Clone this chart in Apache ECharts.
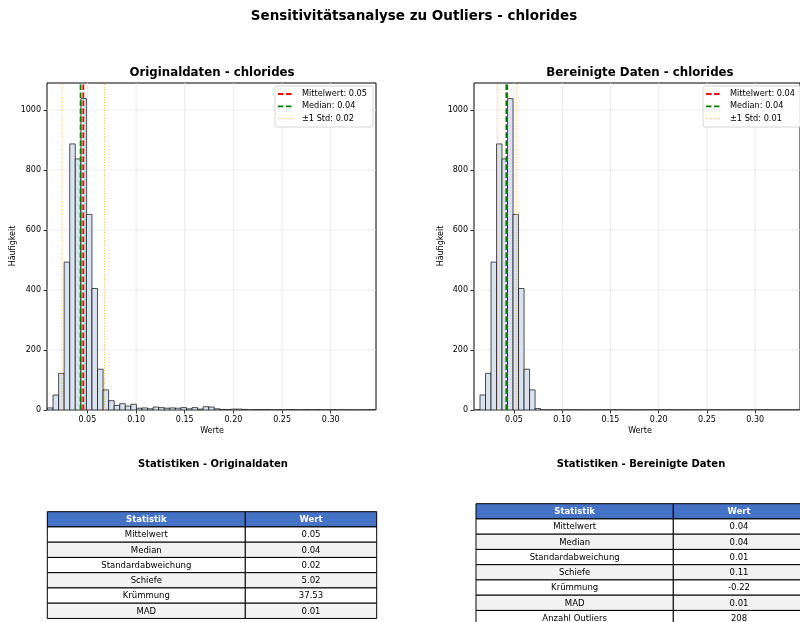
<!DOCTYPE html>
<html><head><meta charset="utf-8">
<script src="https://cdn.jsdelivr.net/npm/echarts@6/dist/echarts.min.js"></script>
<style>html,body{margin:0;padding:0;background:#fff}#c{width:800px;height:622px}</style>
</head><body><div id="c"></div>
<script>
// ---- data ----
const binMin = 0.009, binMax = 0.346, binCount = 59;
const countsOriginal = [7, 50, 122, 493, 887, 837, 1038, 652, 405, 136, 67,
  31, 15, 21, 13, 19, 6, 7, 4, 10, 8, 6, 7, 6, 8, 4, 8, 3, 11, 10, 4,
  2, 1, 3, 3, 2, 0, 1, 1, 1, 0, 1, 0, 1, 1, 0, 1, 0, 1, 0, 0, 1, 0, 0, 0, 0, 0, 0, 1];
const countsCleaned = [0, 50, 122, 493, 887, 837, 1038, 652, 405, 136, 67, 5,
  0, 0, 0, 0, 0, 0, 0, 0, 0, 0, 0, 0, 0, 0, 0, 0, 0, 0, 0,
  0, 0, 0, 0, 0, 0, 0, 0, 0, 0, 0, 0, 0, 0, 0, 0, 0, 0, 0, 0, 0, 0, 0, 0, 0, 0, 0, 0];
const xTicks = [0.05, 0.10, 0.15, 0.20, 0.25, 0.30];
const yTicks = [0, 200, 400, 600, 800, 1000];
const statsOriginal = [0.0458, 0.043, 0.0218];   // mean, median, std
const statsCleaned  = [0.0428, 0.042, 0.0101];
const tableLabelsOriginal = ['Mittelwert', 'Median', 'Standardabweichung', 'Schiefe', 'Krümmung', 'MAD'];
const tableValuesOriginal = ['0.05', '0.04', '0.02', '5.02', '37.53', '0.01'];
const tableLabelsCleaned = ['Mittelwert', 'Median', 'Standardabweichung', 'Schiefe', 'Krümmung', 'MAD', 'Anzahl Outliers'];
const tableValuesCleaned = ['0.04', '0.04', '0.01', '0.11', '-0.22', '0.01', '208'];
const tableHeader = ['Statistik', 'Wert'];

// ---- build ----
const FONT = 'DejaVu Sans';
const xAxisMin = 0.0085, xAxisMax = 0.3465, yMax = 1090;
const binW = (binMax - binMin) / binCount;
function binData(counts) {
  return counts.map((c, i) => [binMin + i * binW, binMin + (i + 1) * binW, c]);
}
const grids = [
  { left: 47, top: 83, width: 329, height: 327 },
  { left: 474, top: 83, width: 329, height: 327 }
];
function xAx(i) {
  return {
    type: 'value', gridIndex: i, min: xAxisMin, max: xAxisMax,
    axisLine: { show: false },
    axisTick: { show: true, length: 3.5, lineStyle: { color: '#000', width: 0.8 }, customValues: xTicks },
    axisLabel: { color: '#000', fontFamily: FONT, fontSize: 8, margin: 6, customValues: xTicks,
      formatter: v => v.toFixed(2) },
    splitLine: { show: false }
  };
}
function yAx(i) {
  return {
    type: 'value', gridIndex: i, min: 0, max: yMax,
    axisLine: { show: false },
    axisTick: { show: true, length: 3.5, lineStyle: { color: '#000', width: 0.8 }, customValues: yTicks },
    axisLabel: { color: '#000', fontFamily: FONT, fontSize: 8, margin: 6, customValues: yTicks,
      formatter: v => String(v) },
    splitLine: { show: false }
  };
}
function gridLines(i) {
  const s = [];
  xTicks.forEach(v => s.push({ type: 'line', xAxisIndex: i, yAxisIndex: i, data: [[v, 0], [v, yMax]],
    symbol: 'none', silent: true, z: 0, lineStyle: { color: '#e6e6e6', width: 0.8 } }));
  yTicks.forEach(v => s.push({ type: 'line', xAxisIndex: i, yAxisIndex: i, data: [[xAxisMin, v], [xAxisMax, v]],
    symbol: 'none', silent: true, z: 0, lineStyle: { color: '#e6e6e6', width: 0.8 } }));
  return s;
}
function histSeries(i, counts) {
  return {
    type: 'custom', xAxisIndex: i, yAxisIndex: i, data: binData(counts), clip: true, z: 2,
    renderItem: (params, api) => {
      const p0 = api.coord([api.value(0), 0]);
      const p1 = api.coord([api.value(1), api.value(2)]);
      return { type: 'rect', shape: { x: p0[0], y: p1[1], width: p1[0] - p0[0], height: p0[1] - p1[1] },
        style: { fill: '#d9e2ef', stroke: 'rgba(0,0,0,0.75)', lineWidth: 0.9 } };
    }
  };
}
function vLine(i, x, color, type, width, op, z) {
  return { type: 'line', xAxisIndex: i, yAxisIndex: i, data: [[x, 0], [x, yMax]], symbol: 'none', silent: true, z: z,
    lineStyle: { color: color, type: type, width: width, opacity: op } };
}
function statLines(i, st) {
  return [
    vLine(i, st[0] - st[2], '#ffa500', [1, 1.6], 1, 0.75, 3),
    vLine(i, st[0] + st[2], '#ffa500', [1, 1.6], 1, 0.75, 3),
    vLine(i, st[0], '#ff0000', [5.5, 2.5], 1.8, 1, 4),
    vLine(i, st[1], '#008000', [5.5, 2.5], 1.8, 1, 5)
  ];
}
function legend(x, y, st) {
  const items = [
    ['Mittelwert: ' + st[0].toFixed(2), '#ff0000', [5.5, 2.5], 1.8, 1],
    ['Median: ' + st[1].toFixed(2), '#008000', [5.5, 2.5], 1.8, 1],
    ['±1 Std: ' + st[2].toFixed(2), '#ffa500', [1, 1.6], 1, 0.75]
  ];
  const g = [{ type: 'rect', shape: { x: x, y: y, width: 98, height: 41, r: 2 }, z: 10,
    style: { fill: 'rgba(255,255,255,0.85)', stroke: '#cccccc', lineWidth: 0.8 } }];
  items.forEach((it, k) => {
    const yy = y + 8 + k * 12.3;
    g.push({ type: 'line', z: 11, shape: { x1: x + 3, y1: yy, x2: x + 19, y2: yy },
      style: { stroke: it[1], lineDash: it[2], lineWidth: it[3], opacity: it[4] } });
    g.push({ type: 'text', z: 11, x: x + 27, y: yy, style: { text: it[0], font: '8.2px "' + FONT + '"',
      fill: '#000', textAlign: 'left', textVerticalAlign: 'middle' } });
  });
  return g;
}
function table(x, y, w1, w2, rh, labels, values) {
  const g = [];
  const rows = [tableHeader].concat(labels.map((l, k) => [l, values[k]]));
  rows.forEach((r, k) => {
    const yy = y + k * rh;
    const fill = k === 0 ? '#4472c4' : (k % 2 === 1 ? '#ffffff' : '#f2f2f2');
    [[x, w1], [x + w1, w2]].forEach((c, j) => {
      g.push({ type: 'rect', z: 10, shape: { x: c[0], y: yy, width: c[1], height: rh },
        style: { fill: fill, stroke: '#000', lineWidth: 1 } });
      g.push({ type: 'text', z: 11, x: c[0] + c[1] / 2, y: yy + rh / 2 + 0.5,
        style: { text: r[j], font: (k === 0 ? 'bold ' : '') + '8.5px "' + FONT + '"',
          fill: k === 0 ? '#fff' : '#000', textAlign: 'center', textVerticalAlign: 'middle' } });
    });
  });
  return g;
}
function txt(x, y, s, size, bold, rot) {
  return { type: 'text', x: x, y: y, rotation: rot || 0, z: 12,
    style: { text: s, font: (bold ? 'bold ' : '') + size + 'px "' + FONT + '"', fill: '#000',
      textAlign: 'center', textVerticalAlign: 'middle' } };
}

const graphics = [
  txt(414, 16, 'Sensitivitätsanalyse zu Outliers - chlorides', 13.5, true),
  txt(212, 73, 'Originaldaten - chlorides', 11.8, true),
  txt(640, 73, 'Bereinigte Daten - chlorides', 11.8, true),
  txt(212, 431, 'Werte', 8, false),
  txt(640, 431, 'Werte', 8, false),
  txt(13, 246, 'Häufigkeit', 8, false, Math.PI / 2),
  txt(441, 246, 'Häufigkeit', 8, false, Math.PI / 2),
  txt(213, 464, 'Statistiken - Originaldaten', 10, true),
  txt(641, 464, 'Statistiken - Bereinigte Daten', 10, true)
].concat(legend(275, 86, statsOriginal), legend(703, 86, statsCleaned),
  table(47.3, 511.7, 198, 131.4, 15.25, tableLabelsOriginal, tableValuesOriginal),
  table(476, 503.7, 197.3, 131.4, 15.25, tableLabelsCleaned, tableValuesCleaned));

const chart = echarts.init(document.getElementById('c'), null, { renderer: 'canvas' });
chart.setOption({
  animation: false,
  backgroundColor: '#fff',
  grid: grids.map(g => Object.assign({ show: true, borderColor: '#000', borderWidth: 1, backgroundColor: 'transparent' }, g)),
  xAxis: [xAx(0), xAx(1)],
  yAxis: [yAx(0), yAx(1)],
  series: [].concat(gridLines(0), gridLines(1),
    [histSeries(0, countsOriginal), histSeries(1, countsCleaned)],
    statLines(0, statsOriginal), statLines(1, statsCleaned)),
  graphic: graphics
});
</script></body></html>
